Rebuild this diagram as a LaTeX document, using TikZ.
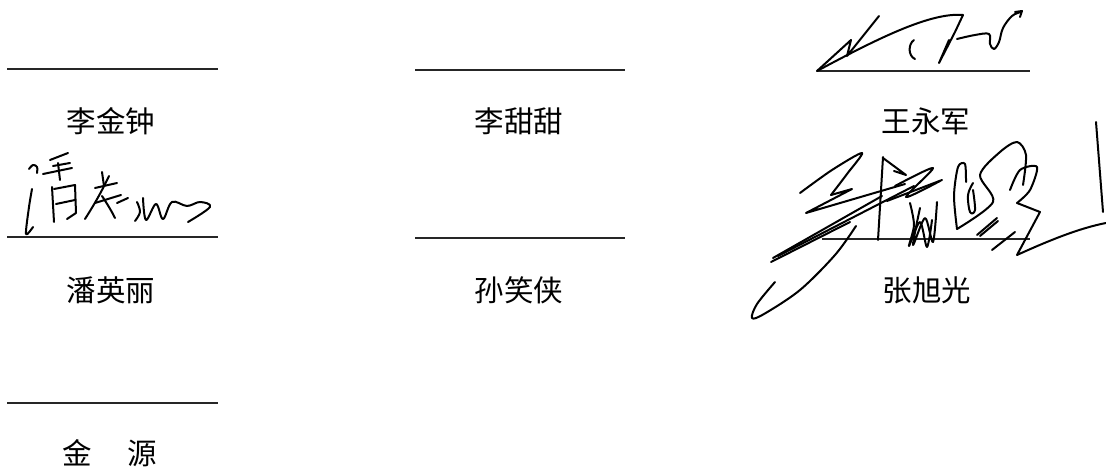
\documentclass[tikz,border=0pt]{standalone}
\usepackage{fontspec}
\newfontfamily\cjk{Noto Sans CJK SC}
\begin{document}
\begin{tikzpicture}[x=1pt,y=-1pt,
  signline/.style={line width=1.1pt, draw=black!85},
  namelabel/.style={font=\cjk\fontsize{29.5}{29.5}\selectfont, inner sep=0pt, anchor=center},
  sig/.style={line width=2pt, line cap=round, line join=round, black}]
\useasboundingbox[fill=white] (0,0) rectangle (1106,470);

% signature lines
\draw[signline] (7,69) -- (218,69);
\draw[signline] (7,237) -- (218,237);
\draw[signline] (7,403) -- (218,403);
\draw[signline] (415,70) -- (625,70);
\draw[signline] (415,238) -- (625,238);
\draw[signline] (817,71) -- (1030,71);
\draw[signline] (822,239) -- (1030,239);

% names
\node[namelabel] (n1) at (111,121) {李金钟};
\node[namelabel] (n2) at (111,290) {潘英丽};
\node[namelabel] (n3) at (110,453) {金\hspace{36pt}源};
\node[namelabel] (n4) at (519,121) {李甜甜};
\node[namelabel] (n5) at (519,290) {孙笑侠};
\node[namelabel] (n6) at (926,121) {王永军};
\node[namelabel] (n7) at (927,290) {张旭光};

% signature of 王永军
\draw[sig] (817,71) -- (851,40) -- (847,56) -- (879,16);
\draw[sig] (817,71) .. controls (875,40) and (930,12) .. (963,15) -- (955,32) -- (939,63) -- (949,40);
\draw[sig] (914,40) .. controls (908,44) and (908,56) .. (915,59);
\draw[sig] plot[smooth,tension=0.6] coordinates {(957,39) (975,35) (989,34) (990,44) (994,49) (999,42) (1003,28) (1012,16) (1021,12)};
\draw[sig] (1015,12) -- (1022,11) -- (1020,17);

% signature of 潘英丽
\draw[sig] plot[smooth,tension=0.6] coordinates {(29,169) (33,165) (37,167) (37,173)};
\draw[sig] plot[smooth,tension=0.5] coordinates {(32,189) (29,207) (26,234) (33,227)};
\draw[sig] (50,160) -- (68,153);
\draw[sig] (53,166) -- (70,163);
\draw[sig] (43,174) -- (72,168);
\draw[sig] (58,163) -- (60,180);
\draw[sig] (52,187) -- (54,222);
\draw[sig] (54,189) -- (75,185) -- (76,213) -- (67,219);
\draw[sig] (56,204) -- (75,200);
\draw[sig] (102,172) -- (104,186);
\draw[sig] (95,188) -- (117,183);
\draw[sig] (109,176) .. controls (100,195) and (92,208) .. (85,219);
\draw[sig] (95,203) -- (121,195);
\draw[sig] (102,196) .. controls (108,205) and (112,212) .. (115,218);
\draw[sig] (117,203) -- (128,198);
\draw[sig] plot[smooth,tension=0.6] coordinates {(137,202) (140,212) (135,221)};
\draw[sig] plot[smooth,tension=0.6] coordinates {(143,198) (146,220) (156,204) (163,219) (172,202) (187,206) (200,202) (210,207) (188,222)};

% signature of 张旭光
\draw[sig] plot[smooth,tension=0.5] coordinates {(800,193) (832,170) (862,153) (847,174) (831,195)};
\draw[sig] (831,195) -- (852,189) -- (806,213) -- (905,184);
\draw[sig] (773,258) -- (882,196);
\draw[sig] (778,256) -- (914,186);
\draw[sig] (771,262) -- (850,222);
\draw[sig] plot[smooth,tension=0.55] coordinates {(775,282) (757,304) (752,318) (764,314) (800,290) (835,255) (856,226)};
\draw[sig] (883,157) -- (878,240);
\draw[sig] (883,158) -- (906,175) -- (894,171);
\draw[sig] (887,201) -- (942,180);
\draw[sig] plot[smooth,tension=0.5] coordinates {(895,186) (933,168) (906,197) (940,181)};
\draw[sig] plot[smooth,tension=0.5] coordinates {(910,203) (914,225) (909,246) (920,222) (927,247) (932,220)};
\draw[sig] plot[smooth,tension=0.5] coordinates {(920,208) (913,245) (925,218) (933,242) (937,202)};
\draw[sig] plot[smooth,tension=0.5] coordinates {(957,229) (954,196) (958,167) (965,164) (966,182)};
\draw[sig] plot[smooth,tension=0.6] coordinates {(973,183) (968,195) (970,212) (975,210) (973,190)};
\draw[sig] plot[smooth,tension=0.5] coordinates {(957,229) (993,202) (980,175) (1000,152) (1017,142) (1026,155) (1023,185)};
\draw[sig] plot[smooth,tension=0.5] coordinates {(1010,190) (1020,170) (1037,167) (1030,190) (1017,203)};
\draw[sig] (1017,203) -- (1040,212) -- (1017,255) .. controls (1050,240) and (1080,228) .. (1106,223);
\draw[sig] (977,235) -- (997,218);
\draw[sig] (980,236) -- (998,221);
\draw[sig] (992,250) -- (1015,232);
\draw[sig] (1096,122) -- (1103,212);
\end{tikzpicture}
\end{document}
